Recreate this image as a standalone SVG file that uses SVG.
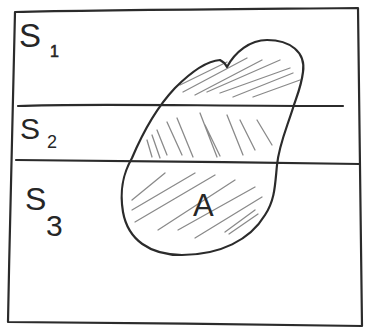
<svg xmlns="http://www.w3.org/2000/svg" width="372" height="328" viewBox="0 0 372 328">
<style>
.ink{fill:none;stroke:#2b2b2b;stroke-width:2.2;stroke-linecap:round;stroke-linejoin:round}
.hatch{fill:none;stroke:#8a8a8a;stroke-width:1.3;stroke-linecap:round}
.lbl{font-family:"Liberation Sans","DejaVu Sans",sans-serif;fill:#262626}
</style>
<rect width="372" height="328" fill="#ffffff"/>
<g id="frame">
<path class="ink" d="M15,12 C90,10 250,9 358,8 C359,80 360,200 362,326 C250,324 120,323 8,322 C10,220 12,120 15,12 Z"/>
</g>
<g id="dividers">
<path class="ink" d="M18,106 C80,103 200,106 343,106"/>
<path class="ink" d="M16,160 C100,161 250,162 360,164"/>
</g>
<g id="S1">
<text class="lbl" x="19" y="47" font-size="33">S</text>
<text class="lbl" x="50" y="57" font-size="16" stroke="#262626" stroke-width="0.6">1</text>
</g>
<g id="S2">
<text class="lbl" x="20" y="139" font-size="30">S</text>
<text class="lbl" x="47" y="148" font-size="18">2</text>
</g>
<g id="S3">
<text class="lbl" x="25" y="210" font-size="32">S</text>
<text class="lbl" x="46" y="236" font-size="30">3</text>
</g>
<g id="A">
<g id="hatching">
<path class="hatch" d="M180,85 L227,62 M183,92 L247,58 M195,95 L262,60 M207,92 L280,60 M220,93 L290,68 M233,97 L293,73 M253,97 L300,80"/>
<path class="hatch" d="M147,140 L152,157 M152,135 L160,158 M157,130 L167,155 M167,122 L182,155 M177,118 L193,157 M200,113 L217,157 M205,125 L220,156 M227,115 L243,155 M240,120 L255,150 M257,120 L272,145"/>
<path class="hatch" d="M132,200 L165,173 M132,210 L195,173 M135,222 L215,175 M158,230 L235,180 M178,230 L255,187 M195,238 L262,197 M225,232 L255,210 M229,234 L258,214"/>
</g>
<path class="ink" d="M220,60 C224,62 226,65 227,67 C235,52 250,40 267,40 C290,40 306,52 303,72 C301,88 296,98 293,108 C286,130 279,145 277,165 C275,185 275,200 265,215 C250,240 220,255 182,255 C150,255 128,240 123,212 C119,188 124,172 132,158 C143,132 158,106 175,88 C190,73 205,61 220,60 Z"/>
<text class="lbl" x="193" y="216" font-size="31" fill="#3a3a3a">A</text>
</g>
</svg>
